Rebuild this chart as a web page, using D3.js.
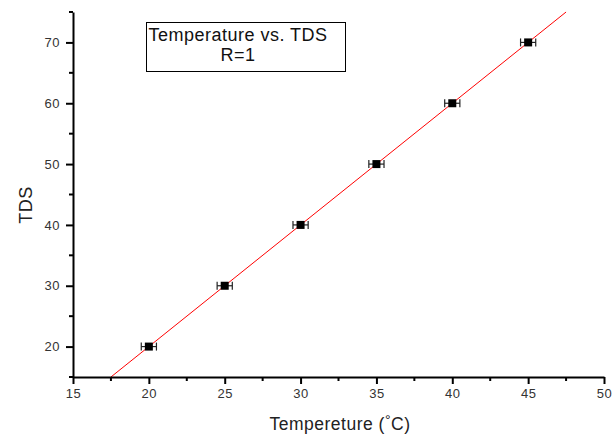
<!DOCTYPE html>
<html>
<head>
<meta charset="utf-8">
<script src="https://cdn.jsdelivr.net/npm/d3@7"></script>
<style>
  body { margin: 0; background: #fff; }
  svg { display: block; font-family: "Liberation Sans", Arial, sans-serif; }
</style>
</head>
<body>
<svg id="chart"></svg>
<script>
const svgWidth = 613;
const svgHeight = 442;

// data
const temperature = [20, 25, 30, 35, 40, 45];
const tds = [20, 30, 40, 50, 60, 70];
const tempError = [0.5, 0.5, 0.5, 0.5, 0.5, 0.5];
const fitX = [17.5, 47.5];
const fitY = [15, 75];
const xTicks = [15, 20, 25, 30, 35, 40, 45, 50];
const xMinor = [17.5, 22.5, 27.5, 32.5, 37.5, 42.5, 47.5];
const yTicks = [20, 30, 40, 50, 60, 70];
const yMinor = [15, 25, 35, 45, 55, 65, 75];
const titleLines = ["Temperature vs. TDS", "R=1"];

const chart = d3.select("#chart")
	.attr("width", svgWidth)
	.attr("height", svgHeight);

const xScale = d3.scaleLinear().domain([15, 50]).range([73, 604]);
const yScale = d3.scaleLinear().domain([15, 75]).range([377, 12]);

// fit line
chart.append("line")
	.attr("x1", xScale(fitX[0]))
	.attr("y1", yScale(fitY[0]))
	.attr("x2", xScale(fitX[1]))
	.attr("y2", yScale(fitY[1]))
	.attr("stroke", "#ff0000")
	.attr("stroke-width", 1);

// error bars
const points = temperature.map((t, i) => ({x: t, y: tds[i], e: tempError[i]}));
const bars = chart.append("g")
	.attr("stroke", "#222")
	.attr("stroke-width", 1.2);
points.forEach(d => {
	let y = yScale(d.y);
	let x0 = xScale(d.x - d.e), x1 = xScale(d.x + d.e);
	bars.append("line").attr("x1", x0).attr("x2", x1).attr("y1", y).attr("y2", y);
	bars.append("line").attr("x1", x0).attr("x2", x0).attr("y1", y - 4).attr("y2", y + 4);
	bars.append("line").attr("x1", x1).attr("x2", x1).attr("y1", y - 4).attr("y2", y + 4);
});

// square markers
chart.selectAll("rect.pt")
	.data(points)
	.enter()
	.append("rect")
	.attr("class", "pt")
	.attr("x", d => xScale(d.x) - 4)
	.attr("y", d => yScale(d.y) - 4)
	.attr("width", 8)
	.attr("height", 8)
	.attr("fill", "#000");

// axes
let xAxis = d3.axisBottom(xScale)
	.tickValues(xTicks)
	.tickSize(7)
	.tickSizeOuter(0)
	.tickPadding(5);
let yAxis = d3.axisLeft(yScale)
	.tickValues(yTicks)
	.tickSize(7)
	.tickSizeOuter(0)
	.tickPadding(6);

let gx = chart.append("g")
	.attr("transform", `translate(0, ${yScale(15)})`)
	.call(xAxis);
let gy = chart.append("g")
	.attr("transform", `translate(${xScale(15)}, 0)`)
	.call(yAxis);

[gx, gy].forEach(g => {
	g.select(".domain").attr("stroke", "#000").attr("stroke-width", 2);
	g.selectAll(".tick line").attr("stroke", "#000").attr("stroke-width", 2);
	g.selectAll(".tick text")
		.attr("font-size", 13)
		.attr("letter-spacing", 0.5)
		.attr("fill", "#333")
		.attr("font-family", "'Liberation Sans', Arial, sans-serif");
});

// minor ticks
gx.selectAll(".minor")
	.data(xMinor)
	.enter()
	.append("line")
	.attr("x1", d => xScale(d))
	.attr("x2", d => xScale(d))
	.attr("y1", 0)
	.attr("y2", 4)
	.attr("stroke", "#000")
	.attr("stroke-width", 2);
gy.selectAll(".minor")
	.data(yMinor)
	.enter()
	.append("line")
	.attr("y1", d => yScale(d))
	.attr("y2", d => yScale(d))
	.attr("x1", 0)
	.attr("x2", -4)
	.attr("stroke", "#000")
	.attr("stroke-width", 2);

// axis labels
let xl = chart.append("text")
	.attr("x", 340)
	.attr("y", 430)
	.attr("text-anchor", "middle")
	.attr("font-size", 17.5)
	.attr("letter-spacing", 0.5)
	.attr("fill", "#222");
xl.append("tspan").text("Tempereture (");
xl.append("tspan").text("°").attr("font-size", 14).attr("dy", -5);
xl.append("tspan").text("C)").attr("dy", 5);

chart.append("text")
	.text("TDS")
	.attr("transform", "rotate(-90)")
	.attr("x", -205)
	.attr("y", 32)
	.attr("text-anchor", "middle")
	.attr("font-size", 18)
	.attr("letter-spacing", 0.5)
	.attr("fill", "#222");

// title box
chart.append("rect")
	.attr("x", 146.5)
	.attr("y", 22.5)
	.attr("width", 199)
	.attr("height", 49)
	.attr("fill", "#fff")
	.attr("stroke", "#000")
	.attr("stroke-width", 1);

chart.selectAll("text.title")
	.data(titleLines)
	.enter()
	.append("text")
	.attr("class", "title")
	.text(d => d)
	.attr("x", 238)
	.attr("y", (d, i) => 41 + i * 20)
	.attr("text-anchor", "middle")
	.attr("font-size", 18)
	.attr("letter-spacing", 0.5)
	.attr("fill", "#111");
</script>
</body>
</html>
